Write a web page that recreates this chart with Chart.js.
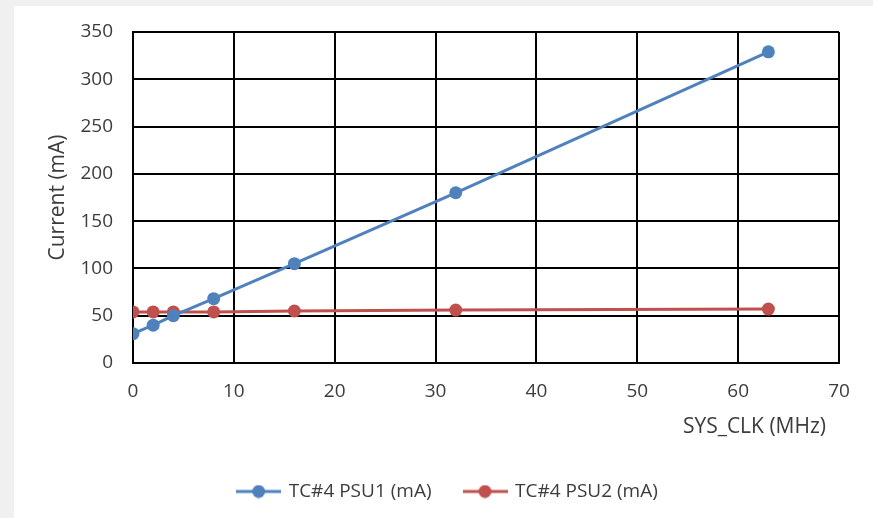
<!DOCTYPE html>
<html>
<head>
<meta charset="utf-8">
<script src="https://cdn.jsdelivr.net/npm/chart.js@4/dist/chart.umd.min.js"></script>
<style>
  html, body { margin: 0; padding: 0; background: #f0f0f0; }
  #panel { position: absolute; left: 14px; top: 6px; width: 859px; height: 512px; background: #ffffff; }
  canvas { display: block; }
</style>
</head>
<body>
<div id="panel"><canvas id="c" width="859" height="512"></canvas></div>
<script>
// SYS_CLK frequency (MHz) and measured supply currents (mA)
const sysClk = [0, 2, 4, 8, 16, 32, 63];
const psu1 = [31, 40, 50, 68, 105, 180, 329];
const psu2 = [54, 54, 54, 54, 55, 56, 57];
const seriesNames = ['TC#4 PSU1 (mA)', 'TC#4 PSU2 (mA)'];
const seriesColors = ['#4f81bd', '#c0504d'];
const xTitle = 'SYS_CLK (MHz)';
const yTitle = 'Current (mA)';

const FONT = "'Open Sans', 'Noto Sans', sans-serif";
const TEXT = '#3c3c3c';

// legend glyph: a short line with a dot in the middle
function legendGlyph(color) {
  const cv = document.createElement('canvas');
  cv.width = 45; cv.height = 14;
  const g = cv.getContext('2d');
  g.strokeStyle = color; g.lineWidth = 3;
  g.beginPath(); g.moveTo(0, 7); g.lineTo(45, 7); g.stroke();
  g.fillStyle = color;
  g.beginPath(); g.arc(22.5, 7, 6.5, 0, Math.PI * 2); g.fill();
  return cv;
}

// x-axis title, right-aligned a little inside the plot's right edge
const xTitlePlugin = {
  id: 'xTitle',
  afterDraw(chart) {
    const { ctx, chartArea } = chart;
    ctx.save();
    ctx.font = `21px ${FONT}`;
    ctx.fillStyle = TEXT;
    ctx.textAlign = 'right';
    ctx.textBaseline = 'middle';
    ctx.fillText(xTitle, chartArea.right - 13, chartArea.bottom + 64);
    ctx.restore();
  }
};

const toXY = (ys) => ys.map((y, i) => ({ x: sysClk[i], y }));

new Chart(document.getElementById('c'), {
  type: 'line',
  data: {
    datasets: [psu1, psu2].map((vals, i) => ({
      label: seriesNames[i],
      data: toXY(vals),
      borderColor: seriesColors[i],
      backgroundColor: seriesColors[i],
      borderWidth: 3,
      pointRadius: 6.5,
      pointHoverRadius: 6.5,
      pointBorderWidth: 0,
      tension: 0,
      glyph: legendGlyph(seriesColors[i])
    }))
  },
  plugins: [xTitlePlugin],
  options: {
    responsive: false,
    animation: false,
    layout: { padding: { left: 9, right: 0, top: 26, bottom: 7 } },
    plugins: {
      tooltip: { enabled: false },
      legend: {
        position: 'bottom',
        labels: {
          usePointStyle: true,
          pointStyleWidth: 41,
          padding: 33,
          color: TEXT,
          font: { family: FONT, size: 19 },
          generateLabels(chart) {
            return chart.data.datasets.map((ds, i) => ({
              text: ds.label,
              pointStyle: ds.glyph,
              fillStyle: ds.borderColor,
              strokeStyle: ds.borderColor,
              lineWidth: 0,
              fontColor: TEXT,
              datasetIndex: i,
              hidden: false
            }));
          }
        }
      }
    },
    scales: {
      x: {
        type: 'linear',
        min: 0, max: 70,
        afterFit(scale) { scale.height = 86; },
        ticks: { stepSize: 10, color: TEXT, padding: 17, font: { family: FONT, size: 19 } },
        grid: { color: '#000000', lineWidth: 2, drawTicks: false },
        border: { color: '#000000', width: 2 }
      },
      y: {
        min: 0, max: 350,
        afterFit(scale) {
          scale.width = 110;
          // only half a label of room is needed above the top tick
          scale.paddingTop = 12;
          scale.paddingBottom = 12;
        },
        ticks: { stepSize: 50, color: TEXT, padding: 20, font: { family: FONT, size: 19 } },
        grid: { color: '#000000', lineWidth: 2, drawTicks: false },
        border: { color: '#000000', width: 2 },
        title: {
          display: true, text: yTitle,
          color: TEXT, font: { family: FONT, size: 21 },
          padding: { top: 22, bottom: 0 }
        }
      },
      // empty right-hand margin beside the plot
      yRight: {
        axis: 'y',
        position: 'right',
        min: 0, max: 350,
        afterFit(scale) { scale.width = 34; },
        ticks: { display: false },
        grid: { display: false, drawTicks: false },
        border: { display: false }
      }
    }
  }
});
</script>
</body>
</html>
